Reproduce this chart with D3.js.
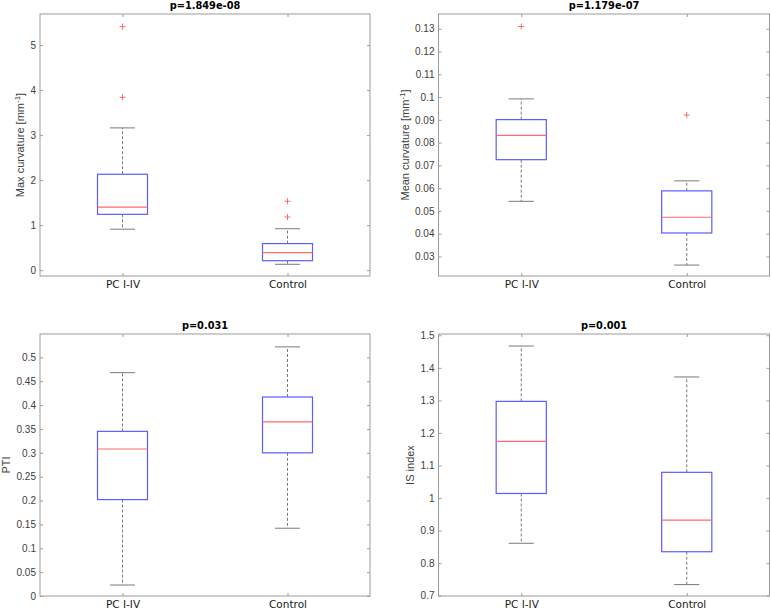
<!DOCTYPE html>
<html>
<head>
<meta charset="utf-8">
<script src="https://cdn.jsdelivr.net/npm/d3@7"></script>
<style>
  body { margin: 0; background: #fff; }
</style>
</head>
<body>
<div id="chart"></div>
<script>
// group names on the x axis
const categories = ['PC I-IV', 'Control'];

// box stats per group: [lower whisker, Q1, median, Q3, upper whisker]
const maxCurvStats = [[0.91, 1.24, 1.40, 2.13, 3.16], [0.13, 0.21, 0.39, 0.59, 0.92]];
const maxCurvOutliers = [[5.41, 3.84], [1.53, 1.18]];
const maxCurvTicks = [0, 1, 2, 3, 4, 5];
const maxCurvLimits = [-0.13, 5.69];

const meanCurvStats = [[0.0542, 0.0725, 0.0832, 0.0901, 0.0992], [0.0262, 0.0403, 0.0472, 0.0588, 0.0632]];
const meanCurvOutliers = [[0.131], [0.0921]];
const meanCurvTicks = [0.03, 0.04, 0.05, 0.06, 0.07, 0.08, 0.09, 0.1, 0.11, 0.12, 0.13];
const meanCurvLimits = [0.0214, 0.1365];

const ptiStats = [[0.023, 0.202, 0.308, 0.345, 0.468], [0.142, 0.300, 0.365, 0.417, 0.522]];
const ptiOutliers = [[], []];
const ptiTicks = [0, 0.05, 0.1, 0.15, 0.2, 0.25, 0.3, 0.35, 0.4, 0.45, 0.5];
const ptiLimits = [0, 0.549];

const isStats = [[0.861, 1.014, 1.174, 1.297, 1.467], [0.734, 0.835, 0.932, 1.079, 1.372]];
const isOutliers = [[], []];
const isTicks = [0.7, 0.8, 0.9, 1, 1.1, 1.2, 1.3, 1.4, 1.5];
const isLimits = [0.699, 1.504];

const titles = ['p=1.849e-08', 'p=1.179e-07', 'p=0.031', 'p=0.001'];
// y labels: [text, superscript, text after]
const yLabels = [
  ['Max curvature [mm', '-1', ']'],
  ['Mean curvature [mm', '-1', ']'],
  ['PTI', '', ''],
  ['IS index', '', '']
];

const panels = [
  { stats: maxCurvStats, outliers: maxCurvOutliers, ticks: maxCurvTicks, limits: maxCurvLimits },
  { stats: meanCurvStats, outliers: meanCurvOutliers, ticks: meanCurvTicks, limits: meanCurvLimits },
  { stats: ptiStats, outliers: ptiOutliers, ticks: ptiTicks, limits: ptiLimits },
  { stats: isStats, outliers: isOutliers, ticks: isTicks, limits: isLimits }
];

const width = 771;
const height = 610;
const cols = [[40, 370], [438.5, 769.5]];
const rows = [[14, 276], [334, 596]];

const frameColor = '#9c9c9c';
const textColor = '#404040';
const boxColor = '#5c5cff';
const medianColor = '#ff6a6a';
const whiskerColor = '#7a7a7a';

const svg = d3.select('#chart')
  .append('svg')
  .attr('width', width)
  .attr('height', height);

panels.forEach((p, i) => {
  const [x0, x1] = cols[i % 2];
  const [y0, y1] = rows[Math.floor(i / 2)];

  const x = d3.scaleLinear().domain([0.5, 2.5]).range([x0, x1]);
  const y = d3.scaleLinear().domain(p.limits).range([y1, y0]);

  const g = svg.append('g');

  // frame
  g.append('rect')
    .attr('x', x0)
    .attr('y', y0)
    .attr('width', x1 - x0)
    .attr('height', y1 - y0)
    .attr('fill', 'none')
    .attr('stroke', frameColor)
    .attr('stroke-width', 1);

  const fmt = d => String(+d.toFixed(3));

  const left = g.append('g')
    .attr('transform', `translate(${x0},0)`)
    .call(d3.axisLeft(y).tickValues(p.ticks).tickSize(-3).tickPadding(4).tickFormat(fmt));
  g.append('g')
    .attr('transform', `translate(${x1},0)`)
    .call(d3.axisRight(y).tickValues(p.ticks).tickSize(-3).tickFormat(''));
  const bottom = g.append('g')
    .attr('transform', `translate(0,${y1})`)
    .call(d3.axisBottom(x).tickValues([1, 2]).tickSize(-3).tickPadding(4.5).tickFormat(d => categories[d - 1]));
  g.append('g')
    .attr('transform', `translate(0,${y0})`)
    .call(d3.axisTop(x).tickValues([1, 2]).tickSize(-3).tickFormat(''));

  g.selectAll('.domain').remove();
  g.selectAll('.tick line').attr('stroke', frameColor);
  g.selectAll('.tick text')
    .attr('fill', textColor)
    .attr('font-family', '"Liberation Sans", Arial, sans-serif')
    .attr('font-size', '10px');
  bottom.selectAll('.tick text')
    .attr('font-family', '"DejaVu Sans", Verdana, sans-serif')
    .attr('font-size', '10.5px')
    .attr('fill', '#1a1a1a');

  // boxes
  p.stats.forEach((s, k) => {
    const cx = k + 1;
    const [lo, q1, med, q3, hi] = s;
    const boxHalf = 0.1515;
    const capHalf = 0.076;

    g.append('line')
      .attr('x1', x(cx)).attr('x2', x(cx))
      .attr('y1', y(q3)).attr('y2', y(hi))
      .attr('stroke', whiskerColor).attr('stroke-dasharray', '3,2');
    g.append('line')
      .attr('x1', x(cx)).attr('x2', x(cx))
      .attr('y1', y(q1)).attr('y2', y(lo))
      .attr('stroke', whiskerColor).attr('stroke-dasharray', '3,2');
    [lo, hi].forEach(v => {
      g.append('line')
        .attr('x1', x(cx - capHalf)).attr('x2', x(cx + capHalf))
        .attr('y1', y(v)).attr('y2', y(v))
        .attr('stroke', whiskerColor);
    });

    g.append('rect')
      .attr('x', x(cx - boxHalf))
      .attr('y', y(q3))
      .attr('width', x(cx + boxHalf) - x(cx - boxHalf))
      .attr('height', y(q1) - y(q3))
      .attr('fill', 'none')
      .attr('stroke', boxColor)
      .attr('stroke-width', 1.2);

    g.append('line')
      .attr('x1', x(cx - boxHalf)).attr('x2', x(cx + boxHalf))
      .attr('y1', y(med)).attr('y2', y(med))
      .attr('stroke', medianColor)
      .attr('stroke-width', 1.2);

    g.selectAll(null)
      .data(p.outliers[k])
      .enter()
      .append('path')
      .attr('d', v => `M${x(cx) - 3},${y(v)}h6M${x(cx)},${y(v) - 3}v6`)
      .attr('stroke', medianColor)
      .attr('fill', 'none');
  });

  // title
  g.append('text')
    .attr('x', (x0 + x1) / 2)
    .attr('y', y0 - 5.5)
    .attr('text-anchor', 'middle')
    .attr('font-family', '"DejaVu Sans", Verdana, sans-serif')
    .attr('font-weight', 'bold')
    .attr('font-size', '9.8px')
    .attr('fill', '#000')
    .text(titles[i]);

  // y label placed left of the tick labels (kept inside the page)
  const bb = left.node().getBBox();
  const lx = Math.max(x0 + bb.x - 6.5, 10);
  const ly = (y0 + y1) / 2;
  const lab = g.append('text')
    .attr('transform', `translate(${lx},${ly}) rotate(-90)`)
    .attr('text-anchor', 'middle')
    .attr('font-family', '"Liberation Sans", Arial, sans-serif')
    .attr('font-size', '11px')
    .attr('fill', textColor);
  const [t0, sup, t1] = yLabels[i];
  lab.append('tspan').text(t0);
  if (sup) {
    lab.append('tspan').attr('dy', -4).attr('font-size', '8px').text(sup);
    lab.append('tspan').attr('dy', 4).text(t1);
  }
});
</script>
</body>
</html>
